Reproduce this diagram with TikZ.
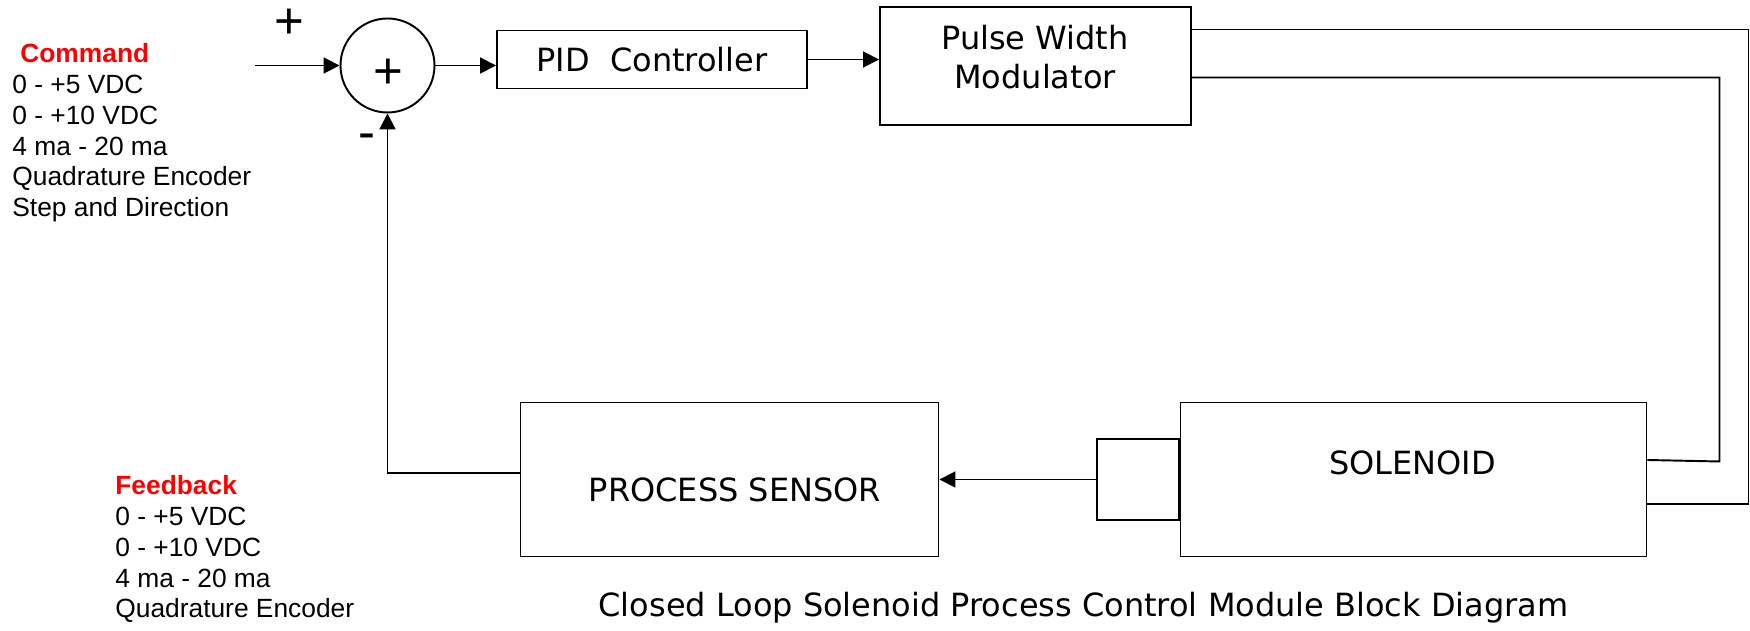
\documentclass[tikz,border=0pt]{standalone}
\usepackage{fontspec}
\setmainfont{DejaVu Sans}
\newfontfamily\arialfont{Liberation Sans}
\usetikzlibrary{arrows.meta}

\begin{document}
\begin{tikzpicture}[
    box/.style={draw, line width=1.1pt, inner sep=0pt, font=\fontsize{18.2}{22.2}\selectfont},
    wire/.style={line width=1.1pt},
    arrow/.style={wire, -{Triangle[length=9pt, width=9pt]}},
    boxtext/.style={font=\fontsize{18.2}{22.2}\selectfont, align=center, inner sep=0pt},
    sign/.style={font=\arialfont\fontsize{29}{30}\selectfont, inner sep=0pt},
    sigtext/.style={font=\arialfont\fontsize{15}{17.5}\selectfont, align=left, anchor=north west, inner sep=0pt}
]
\useasboundingbox (0,0) rectangle (35,12.62);

% Summing junction
\node[circle, draw, line width=1.1pt, minimum size=1.88cm, inner sep=0pt] (sum) at (7.75,11.31) {};
\node[sign] (sum-plus) at (7.77,11.15) {+};
\node[sign] (in-plus) at (5.78,12.14) {+};
\node[sign] (fb-minus) at (7.34,9.79) {-};
\coordinate (cmd) at (5.10,11.31);

% Blocks
\node[box, minimum width=6.2cm, minimum height=1.16cm] (pid) at (13.04,11.43) {PID\ \ Controller};
\node[box, minimum width=6.22cm, minimum height=2.36cm] (pwm) at (20.71,11.30) {};
\node[boxtext] (pwm-txt) at (20.70,11.47) {Pulse Width\\Modulator};
\node[box, minimum width=9.32cm, minimum height=3.08cm] (sol) at (28.27,3.03) {};
\node[boxtext] (sol-txt) at (28.25,3.37) {SOLENOID};
\node[box, minimum width=1.63cm, minimum height=1.63cm, anchor=east] (plunger) at (sol.west) {};
\node[box, minimum width=8.36cm, minimum height=3.08cm] (sens) at (14.59,3.03) {};
\node[boxtext] (sens-txt) at (14.70,2.82) {PROCESS SENSOR};

% Signal lists
\node[sigtext] (cmd-list) at (0.24,11.75) {\hspace*{0.16cm}{\color{red}\bfseries Command}\\
0 - +5 VDC\\
0 - +10 VDC\\
4 ma - 20 ma\\
Quadrature Encoder\\
Step and Direction};
\node[sigtext] (fb-list) at (2.30,3.11) {{\color{red}\bfseries Feedback}\\
0 - +5 VDC\\
0 - +10 VDC\\
4 ma - 20 ma\\
Quadrature Encoder};

% Connections
\draw[arrow] (cmd) -- (sum.west);
\draw[arrow] (sum.east) -- (sum.east -| pid.west);
\draw[arrow] (pid.east) -- (pid.east -| pwm.west);
\draw[wire] (pwm.east |- 0,12.03) -- (34.97,12.03) -- (34.97,2.54) -- (sol.east |- 0,2.54);
\draw[wire] (pwm.east |- 0,11.07) -- (34.39,11.07) -- (34.39,3.39) -- (sol.east |- 0,3.42);
\draw[arrow] (plunger.west) -- (plunger.west -| sens.east);
\draw[arrow] ([yshift=0.13cm]sens.west) -| (sum.south);

% Title
\node[boxtext] (title) at (21.67,0.46) {Closed Loop Solenoid Process Control Module Block Diagram};
\end{tikzpicture}
\end{document}
